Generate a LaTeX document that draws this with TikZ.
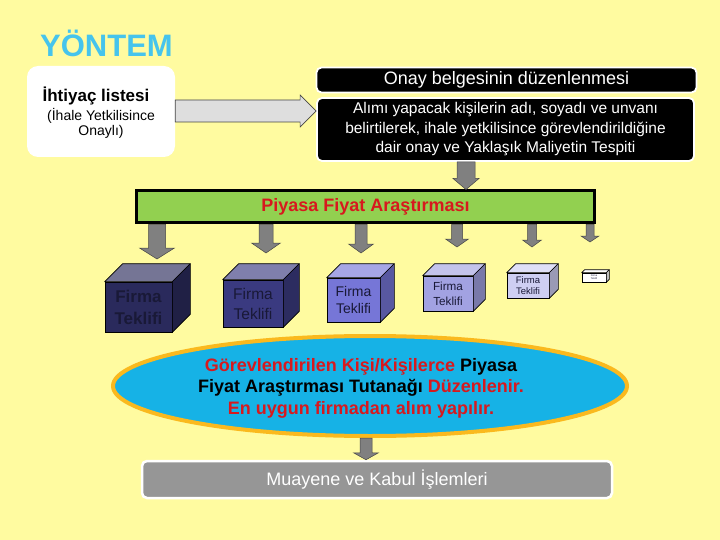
\documentclass[tikz,border=0pt]{standalone}
\usepackage{fontspec}
\setmainfont{Liberation Sans}
\usetikzlibrary{shapes.geometric,calc}
\definecolor{bg}{RGB}{255,251,160}
\definecolor{titlec}{RGB}{70,196,236}
\definecolor{agray}{RGB}{128,128,128}
\definecolor{aline}{RGB}{70,70,70}
\definecolor{lgray}{RGB}{222,222,222}
\definecolor{barg}{RGB}{146,208,80}
\definecolor{redt}{RGB}{215,25,30}
\definecolor{ecyan}{RGB}{22,178,230}
\definecolor{eorange}{RGB}{250,185,30}
\definecolor{boxg}{RGB}{150,150,150}
\definecolor{navyt}{RGB}{25,25,55}
\tikzset{
  blackbox/.style={fill=black, draw=white, line width=1.8pt, rounded corners=5pt, text=white, inner sep=0pt, align=center},
  blockarrow/.style={fill=agray, draw=aline, line width=0.5pt},
  cubeface/.style={draw=black, line width=0.6pt, inner sep=0pt, align=center, text=navyt},
}
\newcommand\blockdown[5]{%
  \path let \p1=#1, \p2=#2 in
    [blockarrow] (\x1-#3pt,\y1) -- (\x1-#3pt,\y2+#5pt) -- (\x1-#4pt,\y2+#5pt) -- (\x1,\y2)
    -- (\x1+#4pt,\y2+#5pt) -- (\x1+#3pt,\y2+#5pt) -- (\x1+#3pt,\y1) -- cycle;}
% #1 name, #2 center, #3 w, #4 h, #5 depth, #6 front colour, #7 font, #8 text
\newcommand\cubebox[8]{%
  \node[cubeface, fill=#6, minimum width=#3pt, minimum height=#4pt, font=#7] (#1) at #2 {#8};
  \draw[fill=#6!65!white, line width=0.6pt, line join=round] (#1.north west) -- ++(#5pt,#5pt) -- ($(#1.north east)+(#5pt,#5pt)$) -- (#1.north east) -- cycle;
  \draw[fill=#6!75!black, line width=0.6pt, line join=round] (#1.north east) -- ++(#5pt,#5pt) -- ($(#1.south east)+(#5pt,#5pt)$) -- (#1.south east) -- cycle;}
\begin{document}
\begin{tikzpicture}[x=1pt,y=-1pt]
\fill[bg] (0,0) rectangle (720,540);
\useasboundingbox (0,0) rectangle (720,540);
% title
\node[anchor=west, inner sep=0pt, text=titlec, font=\fontsize{31}{31}\selectfont\bfseries] (title) at (40,43) {YÖNTEM};
% need list box
\node[fill=white, rounded corners=11pt, minimum width=148pt, minimum height=91pt, inner sep=0pt] (need) at (101,111.5) {};
\node[inner sep=0pt, font=\fontsize{17}{19}\selectfont\bfseries] (needt) at (96,96) {İhtiyaç listesi};
\node[inner sep=0pt, align=center, font=\fontsize{14}{15.5}\selectfont] (needs) at (101,123.5) {(İhale Yetkilisince\\Onaylı)};
% approval boxes
\node[blackbox, minimum width=380pt, minimum height=25pt, font=\fontsize{18}{20}\selectfont] (onay) at (506.5,80) {Onay belgesinin düzenlenmesi};
\node[blackbox, minimum width=377pt, minimum height=63pt, font=\fontsize{15.5}{19.5}\selectfont] (onayb) at (505.5,129.5)
 {Alımı yapacak kişilerin adı, soyadı ve unvanı\\belirtilerek, ihale yetkilisince görevlendirildiğine\\dair onay ve Yaklaşık Maliyetin Tespiti};
% horizontal arrow
\coordinate (hs) at (need.east |- 0,111);
\coordinate (he) at (onayb.west |- 0,111);
\path let \p1=(hs), \p2=(he) in
  [fill=lgray, draw=aline, line width=0.6pt] (\x1,\y1+11pt) -- (\x2-16pt,\y1+11pt) -- (\x2-16pt,\y1+16pt) -- (\x2,\y1)
  -- (\x2-16pt,\y1-16pt) -- (\x2-16pt,\y1-11pt) -- (\x1,\y1-11pt) -- cycle;
% green bar
\node[fill=barg, draw=black, line width=3pt, minimum width=458pt, minimum height=32pt, inner sep=0pt,
  text=redt, font=\fontsize{18}{20}\selectfont\bfseries] (bar) at (365.5,207) {Piyasa Fiyat Araştırması};
\coordinate (t0) at (onayb.south -| 466,0);
\coordinate (t1) at (bar.north -| 466,0);
\blockdown{(t0)}{(t1)}{9}{13}{11}
% arrows from bar
\coordinate (s1) at (bar.south -| 157,0); \coordinate (e1) at (157,259);
\coordinate (s2) at (bar.south -| 266,0); \coordinate (e2) at (266,253);
\coordinate (s3) at (bar.south -| 361,0); \coordinate (e3) at (361,253);
\coordinate (s4) at (bar.south -| 457,0); \coordinate (e4) at (457,247);
\coordinate (s5) at (bar.south -| 532,0); \coordinate (e5) at (532,247);
\coordinate (s6) at (bar.south -| 590,0); \coordinate (e6) at (590,242);
\blockdown{(s1)}{(e1)}{8.5}{17.5}{11}
\blockdown{(s2)}{(e2)}{7}{14.5}{10}
\blockdown{(s3)}{(e3)}{6}{12.5}{9}
\blockdown{(s4)}{(e4)}{5.5}{11.5}{8}
\blockdown{(s5)}{(e5)}{4.5}{9.5}{7}
\blockdown{(s6)}{(e6)}{4}{9}{6}
% cubes
\definecolor{c1}{RGB}{42,42,92}
\definecolor{c2}{RGB}{58,58,128}
\definecolor{c3}{RGB}{118,118,215}
\definecolor{c4}{RGB}{162,162,226}
\definecolor{c5}{RGB}{206,206,242}
\definecolor{c6}{RGB}{255,255,255}
\cubebox{k1}{(138.5,307)}{67}{50}{18}{c1}{\fontsize{17}{22}\selectfont\bfseries}{Firma\\Teklifi}
\cubebox{k2}{(253,303.5)}{60}{47}{16}{c2}{\fontsize{15.5}{20}\selectfont}{Firma\\Teklifi}
\cubebox{k3}{(353.5,300)}{53}{44}{14}{c3}{\fontsize{14}{17.5}\selectfont}{Firma\\Teklifi}
\cubebox{k4}{(448,293.5)}{50}{35}{12}{c4}{\fontsize{11.7}{15}\selectfont}{Firma\\Teklifi}
\cubebox{k5}{(528,285.5)}{42}{25}{9}{c5}{\fontsize{9.5}{11.5}\selectfont}{Firma\\Teklifi}
\cubebox{k6}{(594,277.5)}{24}{9}{3}{c6}{\fontsize{2.5}{3}\selectfont}{Firma\\Teklifi}
% ellipse
\node[ellipse, fill=ecyan, draw=eorange, line width=4pt, minimum width=514pt, minimum height=100pt, inner sep=0pt] (ell) at (370,386) {};
\node[inner sep=0pt, align=center, font=\fontsize{18}{21.5}\selectfont\bfseries] (ellt) at (361,388)
 {\textcolor{redt}{Görevlendirilen Kişi/Kişilerce} Piyasa\\
  Fiyat Araştırması Tutanağı \textcolor{redt}{Düzenlenir.}\\
  \textcolor{redt}{En uygun firmadan alım yapılır.}};
% final box
\node[fill=boxg, draw=white, line width=2.5pt, rounded corners=5pt, minimum width=470pt, minimum height=37pt, inner sep=0pt,
  text=white, font=\fontsize{18}{20}\selectfont] (muay) at (377,479.5) {Muayene ve Kabul İşlemleri};
\coordinate (m0) at (ell.south -| 366,0);
\coordinate (m1) at (muay.north -| 366,0);
\blockdown{(m0)}{(m1)}{6}{12.5}{7}
\end{tikzpicture}
\end{document}
